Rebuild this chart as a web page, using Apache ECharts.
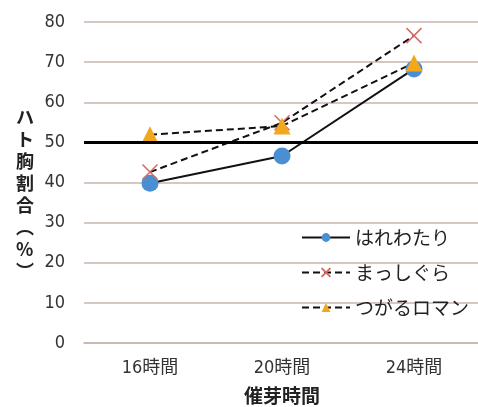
<!doctype html>
<html>
<head>
<meta charset="utf-8">
<script src="https://cdn.jsdelivr.net/npm/echarts@6/dist/echarts.min.js"></script>
<style>
	html, body { margin: 0; padding: 0; background: #fff; }
	#chart { width: 478px; height: 407px; }
</style>
</head>
<body>
<div id="chart"></div>
<script>
var categories = ['16時間', '20時間', '24時間']
var names = ['はれわたり', 'まっしぐら', 'つがるロマン']
var hare = [39.8, 46.6, 68.3]
var masshi = [42.6, 54.9, 76.6]
var tsugaru = [51.9, 54.1, 69.8]
var refValue = 50

var font = "'Liberation Sans Narrow', 'DejaVu Sans Condensed', 'Noto Sans CJK JP', sans-serif"
var cjk = "'Noto Sans CJK JP', sans-serif"

var chart = echarts.init(document.getElementById('chart'))

var option = {
	animation: false,
	grid: { left: 84, top: 22, width: 396, height: 321, outerBoundsMode: 'none', containLabel: false },
	legend: {
		orient: 'vertical',
		left: 296,
		top: 223,
		itemWidth: 48,
		itemHeight: 11,
		itemGap: 16,
		data: names,
		textStyle: { fontFamily: cjk, fontSize: 19, color: '#222' }
	},
	xAxis: {
		type: 'category',
		data: categories,
		axisTick: { show: false },
		axisLine: { lineStyle: { color: '#c4b6ae', width: 1.5 } },
		axisLabel: { fontFamily: font, fontSize: 18, color: '#333', margin: 16 },
		name: '催芽時間',
		nameLocation: 'middle',
		nameGap: 43,
		nameTextStyle: { fontFamily: cjk, fontSize: 19, fontWeight: 'bold', color: '#222' }
	},
	yAxis: {
		type: 'value',
		min: 0,
		max: 80,
		interval: 10,
		axisLine: { show: false },
		axisTick: { show: false },
		axisLabel: { fontFamily: font, fontSize: 18, color: '#333', margin: 19 },
		splitLine: { lineStyle: { color: '#c4b6ae', width: 1.5 } }
	},
	graphic: [{
		type: 'text',
		left: 16,
		top: 106,
		style: {
			text: 'ハ\nト\n胸\n割\n合\n︵\n%\n︶',
			font: 'bold 18px ' + cjk,
			lineHeight: 22,
			fill: '#222',
			align: 'center'
		}
	}],
	series: [
		{
			name: names[0],
			type: 'line',
			data: hare,
			symbol: 'circle',
			symbolSize: 17,
			itemStyle: { color: '#4a8fd2' },
			lineStyle: { color: '#111', width: 2, type: 'solid' },
			markLine: {
				silent: true,
				symbol: 'none',
				label: { show: false },
				lineStyle: { color: '#000', width: 3, type: 'solid' },
				data: [{ yAxis: refValue }]
			}
		},
		{
			name: names[1],
			type: 'line',
			data: masshi,
			symbol: 'path://M0,0 L10,10 M10,0 L0,10',
			symbolSize: 15,
			itemStyle: { color: 'rgba(0,0,0,0)', borderColor: '#d46a66', borderWidth: 1.5 },
			lineStyle: { color: '#111', width: 2, type: [7, 4] }
		},
		{
			name: names[2],
			type: 'line',
			data: tsugaru,
			symbol: 'triangle',
			symbolSize: 17,
			itemStyle: { color: '#f2a81e' },
			lineStyle: { color: '#111', width: 2, type: [7, 4] }
		}
	]
}

chart.setOption(option)
</script>
</body>
</html>
